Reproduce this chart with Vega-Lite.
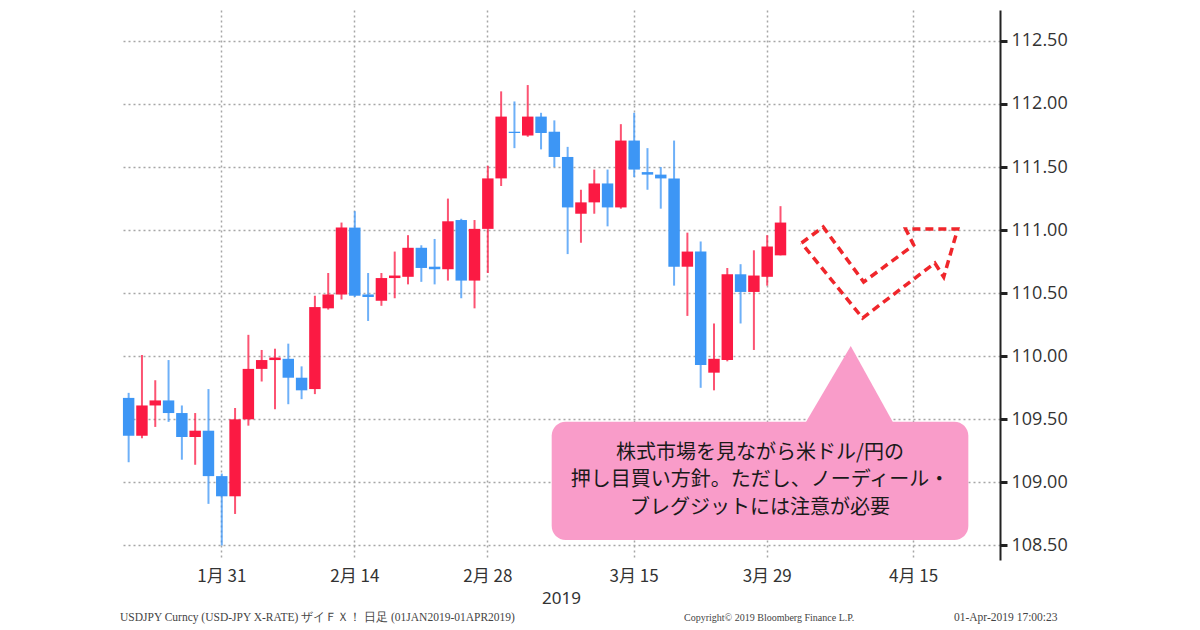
{
  "$schema": "https://vega.github.io/schema/vega-lite/v6.json",
  "width": 878,
  "height": 550,
  "autosize": "none",
  "padding": {"left": 122, "top": 10, "right": 200, "bottom": 70},
  "background": "white",
  "config": {"view": {"stroke": null}},
  "datasets": {
    "candles": [
      {"d": "2019-01-22", "o": 109.67, "h": 109.71, "l": 109.16, "c": 109.37},
      {"d": "2019-01-23", "o": 109.37, "h": 110.01, "l": 109.35, "c": 109.61},
      {"d": "2019-01-24", "o": 109.61, "h": 109.81, "l": 109.44, "c": 109.65},
      {"d": "2019-01-25", "o": 109.65, "h": 109.97, "l": 109.48, "c": 109.55},
      {"d": "2019-01-28", "o": 109.55, "h": 109.61, "l": 109.18, "c": 109.36},
      {"d": "2019-01-29", "o": 109.36, "h": 109.55, "l": 109.14, "c": 109.41},
      {"d": "2019-01-30", "o": 109.41, "h": 109.74, "l": 108.83, "c": 109.05},
      {"d": "2019-01-31", "o": 109.05, "h": 109.07, "l": 108.5, "c": 108.89},
      {"d": "2019-02-01", "o": 108.89, "h": 109.59, "l": 108.75, "c": 109.5},
      {"d": "2019-02-04", "o": 109.5, "h": 110.17, "l": 109.45, "c": 109.9},
      {"d": "2019-02-05", "o": 109.9, "h": 110.05, "l": 109.8, "c": 109.97},
      {"d": "2019-02-06", "o": 109.97, "h": 110.06, "l": 109.58, "c": 109.99},
      {"d": "2019-02-07", "o": 109.98, "h": 110.1, "l": 109.62, "c": 109.83},
      {"d": "2019-02-08", "o": 109.83, "h": 109.92, "l": 109.66, "c": 109.73},
      {"d": "2019-02-11", "o": 109.74, "h": 110.48, "l": 109.7, "c": 110.39},
      {"d": "2019-02-12", "o": 110.38, "h": 110.66, "l": 110.37, "c": 110.49},
      {"d": "2019-02-13", "o": 110.49, "h": 111.06, "l": 110.45, "c": 111.02},
      {"d": "2019-02-14", "o": 111.02, "h": 111.15, "l": 110.47, "c": 110.48},
      {"d": "2019-02-15", "o": 110.49, "h": 110.66, "l": 110.28, "c": 110.47},
      {"d": "2019-02-18", "o": 110.44, "h": 110.66, "l": 110.4, "c": 110.62},
      {"d": "2019-02-19", "o": 110.62, "h": 110.83, "l": 110.46, "c": 110.64},
      {"d": "2019-02-20", "o": 110.63, "h": 110.96, "l": 110.57, "c": 110.86},
      {"d": "2019-02-21", "o": 110.86, "h": 110.88, "l": 110.59, "c": 110.7},
      {"d": "2019-02-22", "o": 110.71, "h": 110.93, "l": 110.57, "c": 110.69},
      {"d": "2019-02-25", "o": 110.69, "h": 111.25, "l": 110.6, "c": 111.07},
      {"d": "2019-02-26", "o": 111.08, "h": 111.09, "l": 110.46, "c": 110.6},
      {"d": "2019-02-27", "o": 110.6, "h": 111.08, "l": 110.38, "c": 111.01},
      {"d": "2019-02-28", "o": 111.01, "h": 111.51, "l": 110.66, "c": 111.41},
      {"d": "2019-03-01", "o": 111.41, "h": 112.1, "l": 111.35, "c": 111.9},
      {"d": "2019-03-04", "o": 111.78, "h": 112.02, "l": 111.65, "c": 111.77},
      {"d": "2019-03-05", "o": 111.75, "h": 112.15, "l": 111.74, "c": 111.9},
      {"d": "2019-03-06", "o": 111.9, "h": 111.93, "l": 111.64, "c": 111.77},
      {"d": "2019-03-07", "o": 111.78, "h": 111.87, "l": 111.5, "c": 111.58},
      {"d": "2019-03-08", "o": 111.58, "h": 111.66, "l": 110.81, "c": 111.18},
      {"d": "2019-03-11", "o": 111.13, "h": 111.32, "l": 110.9, "c": 111.22},
      {"d": "2019-03-12", "o": 111.22, "h": 111.48, "l": 111.13, "c": 111.37},
      {"d": "2019-03-13", "o": 111.37, "h": 111.48, "l": 111.03, "c": 111.18},
      {"d": "2019-03-14", "o": 111.18, "h": 111.84, "l": 111.17, "c": 111.71},
      {"d": "2019-03-15", "o": 111.71, "h": 111.93, "l": 111.42, "c": 111.48},
      {"d": "2019-03-18", "o": 111.46, "h": 111.65, "l": 111.32, "c": 111.44},
      {"d": "2019-03-19", "o": 111.44, "h": 111.5, "l": 111.17, "c": 111.41},
      {"d": "2019-03-20", "o": 111.41, "h": 111.71, "l": 110.56, "c": 110.71},
      {"d": "2019-03-21", "o": 110.71, "h": 110.98, "l": 110.32, "c": 110.83},
      {"d": "2019-03-22", "o": 110.83, "h": 110.91, "l": 109.75, "c": 109.93},
      {"d": "2019-03-25", "o": 109.87, "h": 110.26, "l": 109.73, "c": 109.98},
      {"d": "2019-03-26", "o": 109.97, "h": 110.7, "l": 109.96, "c": 110.65},
      {"d": "2019-03-27", "o": 110.65, "h": 110.73, "l": 110.26, "c": 110.51},
      {"d": "2019-03-28", "o": 110.51, "h": 110.84, "l": 110.05, "c": 110.64},
      {"d": "2019-03-29", "o": 110.63, "h": 110.96, "l": 110.56, "c": 110.87},
      {"d": "2019-04-01", "o": 110.8, "h": 111.19, "l": 110.8, "c": 111.06}
    ],
    "arrow": [
      {"k": 1, "t": 50.58, "v": 110.898},
      {"k": 2, "t": 52.21, "v": 111.025},
      {"k": 3, "t": 55.25, "v": 110.589},
      {"k": 4, "t": 59.01, "v": 110.882},
      {"k": 5, "t": 58.41, "v": 111.009},
      {"k": 6, "t": 62.32, "v": 111.009},
      {"k": 7, "t": 61.27, "v": 110.628},
      {"k": 8, "t": 60.6, "v": 110.739},
      {"k": 9, "t": 55.17, "v": 110.303},
      {"k": 10, "t": 50.58, "v": 110.898}
    ],
    "box": [{"t": 31.8, "t2": 63.12, "v": 109.481, "v2": 108.544}],
    "pointer": [
      {"t": 50.47, "v": 109.4, "b": 109.4},
      {"t": 54.28, "v": 110.081, "b": 109.4},
      {"t": 57.86, "v": 109.4, "b": 109.4}
    ],
    "callout": [
      {"t": 47.46, "v": 109.231, "txt": "株式市場を見ながら米ドル/円の"},
      {"t": 47.46, "v": 109.019, "txt": "押し目買い方針。ただし、ノーディール・"},
      {"t": 47.46, "v": 108.795, "txt": "ブレグジットには注意が必要"}
    ],
    "footer": [
      {"t": -0.65, "v": 107.925, "txt": "USDJPY Curncy (USD-JPY X-RATE) ザイＦＸ！  日足 (01JAN2019-01APR2019)", "part": "source"},
      {"t": 41.75, "v": 107.925, "txt": "Copyright© 2019 Bloomberg Finance L.P.", "part": "copyright"},
      {"t": 62.04, "v": 107.925, "txt": "01-Apr-2019 17:00:23", "part": "stamp"}
    ]
  },
  "resolve": {"scale": {"x": "independent"}},
  "layer": [
    {
      "data": {"name": "candles"},
      "encoding": {
        "x": {
          "field": "d",
          "type": "ordinal",
          "scale": {
            "type": "band",
            "paddingInner": 0,
            "paddingOuter": 0,
            "domain": ["2019-01-22","2019-01-23","2019-01-24","2019-01-25","2019-01-28","2019-01-29","2019-01-30","2019-01-31","2019-02-01","2019-02-04","2019-02-05","2019-02-06","2019-02-07","2019-02-08","2019-02-11","2019-02-12","2019-02-13","2019-02-14","2019-02-15","2019-02-18","2019-02-19","2019-02-20","2019-02-21","2019-02-22","2019-02-25","2019-02-26","2019-02-27","2019-02-28","2019-03-01","2019-03-04","2019-03-05","2019-03-06","2019-03-07","2019-03-08","2019-03-11","2019-03-12","2019-03-13","2019-03-14","2019-03-15","2019-03-18","2019-03-19","2019-03-20","2019-03-21","2019-03-22","2019-03-25","2019-03-26","2019-03-27","2019-03-28","2019-03-29","2019-04-01","2019-04-02","2019-04-03","2019-04-04","2019-04-05","2019-04-08","2019-04-09","2019-04-10","2019-04-11","2019-04-12","2019-04-15","2019-04-16","2019-04-17","2019-04-18","2019-04-19","2019-04-22","2019-04-23"]
          },
          "axis": {
            "values": ["2019-01-31","2019-02-14","2019-02-28","2019-03-15","2019-03-29","2019-04-15"],
            "labelExpr": "toNumber(substring(datum.value, 5, 7)) + '月 ' + substring(datum.value, 8, 10)",
            "bandPosition": 0.5,
            "grid": true,
            "gridDash": [2, 3],
            "gridColor": "#a6a6a6",
            "gridWidth": 1.5,
            "domain": false,
            "ticks": false,
            "labelAngle": 0,
            "labelFont": "Noto Sans CJK JP",
            "labelFontSize": 17,
            "labelColor": "#333333",
            "labelPadding": 8,
            "title": "2019",
            "titleFont": "Noto Sans",
            "titleFontSize": 17,
            "titleFontWeight": "normal",
            "titleColor": "#333333",
            "titlePadding": 6
          }
        },
        "color": {
          "condition": {"test": "datum.c >= datum.o", "value": "#fb1a43"},
          "value": "#3d96f5"
        }
      },
      "layer": [
        {
          "mark": {"type": "rule", "strokeWidth": 2, "opacity": 0.75},
          "encoding": {
            "y": {
              "field": "l",
              "type": "quantitative",
              "scale": {"domain": [108.385, 112.745], "zero": false, "nice": false},
              "axis": {
                "orient": "right",
                "values": [108.5, 109, 109.5, 110, 110.5, 111, 111.5, 112, 112.5],
                "format": ".2f",
                "grid": true,
                "gridDash": [2, 3],
                "gridColor": "#a6a6a6",
                "gridWidth": 1.5,
                "domain": true,
                "domainColor": "#222222",
                "domainWidth": 2,
                "ticks": true,
                "tickColor": "#222222",
                "tickSize": 7,
                "tickWidth": 3,
                "labelFont": "Open Sans",
                "labelFontSize": 18,
                "labelColor": "#333333",
                "labelPadding": 4
              },
              "title": null
            },
            "y2": {"field": "h"}
          }
        },
        {
          "mark": {"type": "bar", "width": {"band": 0.86}},
          "encoding": {
            "y": {"field": "o", "type": "quantitative", "title": null},
            "y2": {"field": "c"}
          }
        }
      ]
    },
    {
      "layer": [
        {
          "data": {"name": "pointer"},
          "mark": {"type": "area", "color": "#f99cc9"},
          "encoding": {
            "x": {"field": "t", "type": "quantitative", "scale": {"domain": [-0.5, 65.5], "nice": false, "zero": false}, "axis": null},
            "y": {"field": "v", "type": "quantitative", "title": null},
            "y2": {"field": "b"}
          }
        },
        {
          "data": {"name": "box"},
          "mark": {"type": "rect", "color": "#f99cc9", "cornerRadius": 14},
          "encoding": {
            "x": {"field": "t", "type": "quantitative", "scale": {"domain": [-0.5, 65.5], "nice": false, "zero": false}, "axis": null},
            "x2": {"field": "t2"},
            "y": {"field": "v", "type": "quantitative", "title": null},
            "y2": {"field": "v2"}
          }
        },
        {
          "data": {"name": "callout"},
          "mark": {"type": "text", "font": "Noto Sans CJK JP", "fontSize": 20, "lineHeight": 22, "color": "#1a1a1a", "align": "center", "baseline": "middle"},
          "encoding": {
            "x": {"field": "t", "type": "quantitative", "scale": {"domain": [-0.5, 65.5], "nice": false, "zero": false}, "axis": null},
            "y": {"field": "v", "type": "quantitative", "title": null},
            "text": {"field": "txt"}
          }
        },
        {
          "data": {"name": "arrow"},
          "mark": {"type": "line", "color": "#f0262b", "strokeWidth": 3.5, "strokeDash": [8, 5], "strokeJoin": "miter"},
          "encoding": {
            "x": {"field": "t", "type": "quantitative", "scale": {"domain": [-0.5, 65.5], "nice": false, "zero": false}, "axis": null},
            "y": {"field": "v", "type": "quantitative", "title": null},
            "order": {"field": "k"}
          }
        },
        {
          "data": {"name": "footer"},
          "transform": [{"filter": "datum.part != 'copyright'"}],
          "mark": {"type": "text", "font": "Liberation Serif", "fontSize": 11.5, "color": "#444444", "align": "left", "baseline": "middle"},
          "encoding": {
            "x": {"field": "t", "type": "quantitative", "scale": {"domain": [-0.5, 65.5], "nice": false, "zero": false}, "axis": null},
            "y": {"field": "v", "type": "quantitative", "title": null},
            "text": {"field": "txt"}
          }
        },
        {
          "data": {"name": "footer"},
          "transform": [{"filter": "datum.part == 'copyright'"}],
          "mark": {"type": "text", "font": "Liberation Serif", "fontSize": 10, "color": "#444444", "align": "left", "baseline": "middle"},
          "encoding": {
            "x": {"field": "t", "type": "quantitative", "scale": {"domain": [-0.5, 65.5], "nice": false, "zero": false}, "axis": null},
            "y": {"field": "v", "type": "quantitative", "title": null},
            "text": {"field": "txt"}
          }
        }
      ]
    }
  ]
}
